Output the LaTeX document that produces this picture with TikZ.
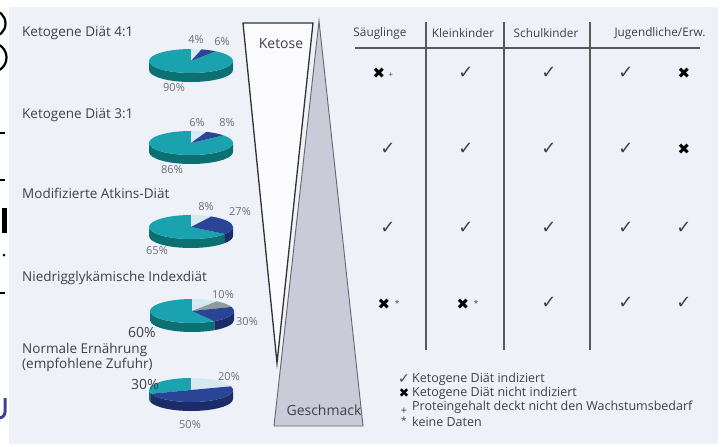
\documentclass[tikz,border=0pt]{standalone}
\usepackage{fontspec}
\setmainfont{Open Sans}
\newfontfamily\symfont{DejaVu Sans}
\usetikzlibrary{calc}

\definecolor{panel}{HTML}{EEF1F8}
\definecolor{fatTop}{HTML}{1AA3AE}
\definecolor{fatSide}{HTML}{0C6F72}
\definecolor{protTop}{HTML}{2A4596}
\definecolor{protSide}{HTML}{1B2C68}
\definecolor{carbTop}{HTML}{D6E9F0}
\definecolor{carbSide}{HTML}{A9C6D2}
\definecolor{greyTop}{HTML}{8C9C9E}
\definecolor{tasteGrey}{HTML}{C9CBD8}
\definecolor{txt}{HTML}{3F3F49}
\definecolor{pctgrey}{HTML}{6E6E7A}

% 3D-Torte: Mittelpunkt, von, bis, Farbe
\newcommand{\piewall}[4]{%
  \fill[#4] ($(#1)+(#2:42pt and 12pt)$) arc[start angle=#2, end angle=#3, x radius=42pt, y radius=12pt]
    -- ++(0,-9) arc[start angle=#3, end angle=#2, x radius=42pt, y radius=12pt] -- cycle;}
\newcommand{\pietop}[4]{%
  \fill[#4] (#1) -- ($(#1)+(#2:42pt and 12pt)$) arc[start angle=#2, end angle=#3, x radius=42pt, y radius=12pt] -- cycle;}

\begin{document}
\begin{tikzpicture}[x=1pt, y=1pt,
        lbl/.style={anchor=west, inner sep=0pt, text=txt, font=\fontsize{13.5}{15}\selectfont},
        pct/.style={inner sep=0pt, text=pctgrey, font=\fontsize{11}{12}\selectfont},
        bigpct/.style={inner sep=0pt, text=txt, font=\fontsize{14}{15}\selectfont},
        head/.style={inner sep=0pt, text=txt, font=\fontsize{11.8}{13}\selectfont},
        yes/.style={inner sep=0pt, text=txt, font=\symfont\fontsize{18}{18}\selectfont},
        no/.style={inner sep=0pt, text=black, font=\symfont\fontsize{15}{15}\selectfont},
        mark2/.style={inner sep=0pt, text=txt, font=\fontsize{8}{8}\selectfont},
        legend/.style={anchor=west, inner sep=0pt, text=txt, font=\fontsize{12.5}{14}\selectfont},
        grid/.style={draw=black!65, line width=1.1pt},
    ]
    \useasboundingbox (0,0) rectangle (723,-447);
    \fill[panel] (9,-7) rectangle (718,-444);

    % Reste der Nachbarseite
    \begin{scope}
        \clip (0,0) rectangle (8,-447);
        \draw[line width=2.2pt] (-8,-10) arc[start angle=90, end angle=-90, radius=13.5pt];
        \draw[line width=2.2pt] (-8,-43) arc[start angle=90, end angle=-90, radius=14.5pt];
        \fill (0,-132) rectangle (5,-134);
        \fill (0,-179) rectangle (5,-181);
        \fill (2,-208) rectangle (7,-233);
        \fill (4,-255) circle (1.5);
        \fill (0,-292) rectangle (5,-294);
        \draw[line width=3pt, color=blue!45!black!75] (5,-398) -- (5,-412) arc[start angle=0, end angle=-90, radius=6pt];
    \end{scope}

    % Dreiecke
    \draw[fill=tasteGrey, draw=black!60, line width=0.9pt] (319,-21) -- (363,-426) -- (274,-426) -- cycle;
    \draw[fill=white!75!panel, draw=black!80, line width=1.3pt] (243,-23) -- (313,-23) -- (277,-363) -- cycle;
    \node[inner sep=0pt, text=txt, font=\fontsize{14}{15}\selectfont] (ketose) at (281,-44) {Ketose};
    \node[inner sep=0pt, text=txt, font=\fontsize{14}{15}\selectfont] (geschmack) at (324,-410) {Geschmack};

    % Torten
    \coordinate (pie1) at (191,-61);
    \coordinate (pie2) at (191,-143);
    \coordinate (pie3) at (191,-227);
    \coordinate (pie4) at (192,-311);
    \coordinate (pie5) at (191,-390);

    \piewall{pie1}{-180}{0}{fatSide}
    \pietop{pie1}{54}{-270}{fatTop}
    \pietop{pie1}{90}{75.6}{carbTop}
    \pietop{pie1}{75.6}{54}{protTop}

    \piewall{pie2}{-180}{0}{fatSide}
    \pietop{pie2}{39.6}{-270}{fatTop}
    \pietop{pie2}{90}{68.4}{carbTop}
    \pietop{pie2}{68.4}{39.6}{protTop}

    \piewall{pie3}{-180}{-36}{fatSide}
    \piewall{pie3}{-36}{0}{protSide}
    \pietop{pie3}{-36}{-270}{fatTop}
    \pietop{pie3}{90}{61.2}{carbTop}
    \pietop{pie3}{61.2}{-36}{protTop}

    \piewall{pie4}{-180}{-58}{fatSide}
    \piewall{pie4}{-58}{0}{protSide}
    \pietop{pie4}{-58}{-270}{fatTop}
    \pietop{pie4}{90}{54}{carbTop}
    \pietop{pie4}{54}{20}{greyTop}
    \pietop{pie4}{20}{-58}{protTop}

    \piewall{pie5}{-180}{-162}{fatSide}
    \piewall{pie5}{-162}{0}{protSide}
    \pietop{pie5}{-162}{-270}{fatTop}
    \pietop{pie5}{90}{18}{carbTop}
    \pietop{pie5}{18}{-162}{protTop}

    % Beschriftung der Torten
    \node[lbl] (kd41) at (22,-33) {Ketogene Diät 4:1};
    \node[pct] at (196,-40) {4\%};
    \node[pct] at (222,-42) {6\%};
    \node[pct] at (174,-88) {90\%};

    \node[lbl] (kd31) at (22,-115) {Ketogene Diät 3:1};
    \node[pct] at (197,-123) {6\%};
    \node[pct] at (227,-123) {8\%};
    \node[pct] at (172,-170) {86\%};

    \node[lbl] (atkins) at (22,-193) {Modifizierte Atkins-Diät};
    \node[pct] at (206,-207) {8\%};
    \node[pct] at (240,-212) {27\%};
    \node[pct] at (157,-251) {65\%};

    \node[lbl] (index) at (22,-278) {Niedrigglykämische Indexdiät};
    \node[pct] at (223,-295) {10\%};
    \node[pct] at (247,-322) {30\%};
    \node[bigpct] at (142,-332) {60\%};

    \node[lbl] (normal) at (22,-350) {Normale Ernährung};
    \node[lbl] (zufuhr) at (22,-365) {(empfohlene Zufuhr)};
    \node[pct] at (229,-377) {20\%};
    \node[bigpct] at (145,-384) {30\%};
    \node[pct] at (190,-425) {50\%};

    % Tabelle
    \node[head] (hSaeug) at (380,-33) {Säuglinge};
    \node[head] (hKlein) at (463,-33) {Kleinkinder};
    \node[head] (hSchul) at (546,-33) {Schulkinder};
    \node[head] (hJugend) at (660,-33) {Jugendliche/Erw.};
    \draw[grid] (355,-48) -- (700,-48);
    \foreach \x in {426,504,590}
        \draw[grid] (\x,-22) -- (\x,-350);

    \node[no] (r1c1) at (379,-73) {✖};
    \node[mark2] at (391,-75) {+};
    \node[yes] (r1c2) at (466,-73) {✓};
    \node[yes] (r1c3) at (549,-73) {✓};
    \node[yes] (r1c4) at (626,-73) {✓};
    \node[no]  (r1c5) at (684,-73) {✖};

    \node[yes] (r2c1) at (388,-149) {✓};
    \node[yes] (r2c2) at (466,-149) {✓};
    \node[yes] (r2c3) at (549,-149) {✓};
    \node[yes] (r2c4) at (626,-149) {✓};
    \node[no]  (r2c5) at (684,-149) {✖};

    \node[yes] (r3c1) at (388,-228) {✓};
    \node[yes] (r3c2) at (466,-228) {✓};
    \node[yes] (r3c3) at (549,-228) {✓};
    \node[yes] (r3c4) at (626,-228) {✓};
    \node[yes] (r3c5) at (684,-228) {✓};

    \node[no]  (r4c1) at (384,-304) {✖};
    \node[mark2] at (397,-303) {*};
    \node[no]  (r4c2) at (463,-304) {✖};
    \node[mark2] at (476,-303) {*};
    \node[yes] (r4c3) at (549,-303) {✓};
    \node[yes] (r4c4) at (626,-303) {✓};
    \node[yes] (r4c5) at (684,-303) {✓};

    % Legende
    \node[yes, font=\symfont\fontsize{14}{14}\selectfont] (lgYes) at (404,-379) {✓};
    \node[legend] at (412,-379) {Ketogene Diät indiziert};
    \node[no, font=\symfont\fontsize{12.5}{12}\selectfont] (lgNo) at (404,-393) {✖};
    \node[legend] at (412,-393) {Ketogene Diät nicht indiziert};
    \node[mark2, font=\fontsize{11}{12}\selectfont] (lgPlus) at (404,-411) {+};
    \node[legend] at (412,-407) {Proteingehalt deckt nicht den Wachstumsbedarf};
    \node[mark2, font=\fontsize{10}{12}\selectfont] (lgStar) at (404,-421) {*};
    \node[legend] at (412,-422) {keine Daten};
\end{tikzpicture}
\end{document}
